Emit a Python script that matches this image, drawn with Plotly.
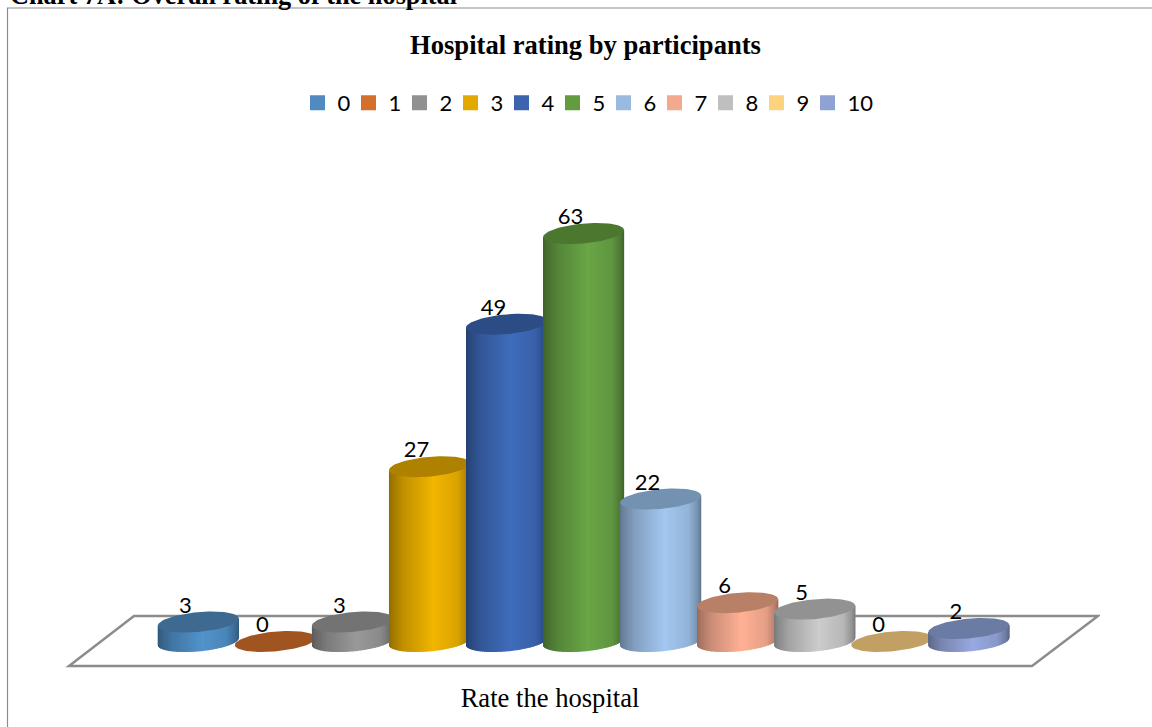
import numpy as np
import plotly.graph_objects as go

# ---- data ----
categories = ["0", "1", "2", "3", "4", "5", "6", "7", "8", "9", "10"]
values = [3, 0, 3, 27, 49, 63, 22, 6, 5, 0, 2]
legend_colors = ["#4f8bc0", "#d4702b", "#919191", "#e3a900", "#3c64ae", "#629c3e",
                 "#9abbe0", "#f2a98d", "#bfbfbf", "#ffd27f", "#8fa2d4"]
bright_colors = ["#5293cc", "#d9742d", "#999999", "#f2b500", "#3f6cbc", "#69a646",
                 "#a3c7f0", "#ffb195", "#cccccc", "#ffd27f", "#98a9e0"]
top_colors = ["#3e6a92", "#a0541f", "#737373", "#ae8200", "#2c4c85", "#4b772f",
              "#7391b0", "#b98068", "#929292", "#c29f62", "#6a7ba4"]

chart_caption = "Chart 7A: Overall rating of the hospital"
chart_title = "Hospital rating by participants"
axis_title = "Rate the hospital"

# ---- layout scale (pixels) ----
W, H = 1152, 727
PX0, PITCH = 198.3, 77.05      # pixel x of category 0, pixels per category
PY0, PPU = 641.5, 6.476        # pixel y of value 0, pixels per unit
M_T, M_B, M_R = 130, 57, 52
PW = W - M_R
A, B, K = 40.5, 9.9, 3.5       # ellipse half width, half height, skew


def X(px):
    return (px - PX0) / PITCH


def Y(py):
    return (PY0 - py) / PPU


def rgb(hexc, f=1.0):
    c = [int(hexc[i:i + 2], 16) for i in (1, 3, 5)]
    return "rgb(%d,%d,%d)" % tuple(min(255, round(v * f)) for v in c)


def shade(u):
    return np.interp((u + 1) / 2, [0, .04, .18, .55, .85, .96, 1],
                     [.60, .66, .80, 1.0, .90, .72, .60])


fig = go.Figure()

# real data bars (under the cylinder shading)
for i, (c, v) in enumerate(zip(categories, values)):
    fig.add_trace(go.Bar(x=[i], y=[v], width=[0.9 * 2 * A / PITCH], name=c,
                         marker=dict(color=legend_colors[i], line=dict(width=0)),
                         showlegend=False, hovertemplate=c + ": %{y}<extra></extra>"))

# legend entries
for i, c in enumerate(categories):
    fig.add_trace(go.Scatter(x=[None], y=[None], mode="markers", name=c,
                             marker=dict(symbol="square", size=15, color=legend_colors[i],
                                         line=dict(width=0))))
# blank entry: keeps the legend box wide enough for the last label
fig.add_trace(go.Scatter(x=[None], y=[None], mode="markers", name="\u00a0",
                         marker=dict(symbol="square", size=15, color="rgba(0,0,0,0)",
                                     line=dict(width=0))))

# cylinders, left to right so later ones cover earlier ones
N = 48
th = np.linspace(np.pi, 0, N + 1)
us = np.cos(th)
tt = np.linspace(0, 2 * np.pi, 91)
for i, v in enumerate(values):
    if v > 0:
        for j in range(N):
            u0, u1 = us[j], us[min(j + 1, N)]
            um = (u0 + u1) / 2
            uo = min(us[j + 1] + 0.03, 1.0)   # small overlap hides seams
            xs = i + np.array([u0, uo, uo, u0, u0]) * A / PITCH
            low = lambda u: (-B * np.sqrt(max(1 - u * u, 0)) + K * u) / PPU
            ys = [v + K * u0 / PPU, v + K * uo / PPU, low(uo), low(u0), v + K * u0 / PPU]
            fig.add_trace(go.Scatter(x=xs, y=ys, mode="lines", fill="toself",
                                     line=dict(width=0), hoverinfo="skip", showlegend=False,
                                     fillcolor=rgb(bright_colors[i], float(shade(um)))))
    ex = i + np.cos(tt) * A / PITCH
    ey = v + (B * np.sin(tt) + K * np.cos(tt)) / PPU
    fig.add_trace(go.Scatter(x=ex, y=ey, mode="lines", fill="toself", line=dict(width=0),
                             fillcolor=top_colors[i], hoverinfo="skip", showlegend=False))

# data labels
fig.add_trace(go.Scatter(
    x=[i - 13 / PITCH for i in range(len(values))],
    y=[v + 15 / PPU for v in values],
    mode="text", text=[str(v) for v in values], textposition="middle center",
    textfont=dict(family="Lato", size=22, color="#000000"),
    hoverinfo="skip", showlegend=False))

floor_pts = [(134, 616), (1098, 616), (1032, 666), (69, 666)]
path = "M" + " L".join(f"{X(a):.4f},{Y(b):.4f}" for a, b in floor_pts) + " Z"
plot_h = H - M_T - M_B


def py_paper(py):
    return (H - M_B - py) / plot_h


fig.update_layout(
    width=W, height=H, autosize=False,
    margin=dict(l=0, r=M_R, t=M_T, b=M_B, pad=0),
    paper_bgcolor="white", plot_bgcolor="white",
    barmode="overlay",
    title=dict(text=f"<b>{chart_title}</b>", x=585.5 / W, xanchor="center",
               y=1 - 45 / H, yanchor="middle",
               font=dict(family="Liberation Serif", size=26.6, color="#000000")),
    xaxis=dict(range=[X(0), X(PW)], showgrid=False, zeroline=False, showline=False,
               showticklabels=False, ticks="", fixedrange=True,
               title=dict(text=axis_title, standoff=18,
                          font=dict(family="Liberation Serif", size=26.6, color="#000000"))),
    yaxis=dict(range=[Y(H - M_B), Y(M_T)], showgrid=False, zeroline=False, showline=False,
               showticklabels=False, ticks="", fixedrange=True),
    legend=dict(orientation="h", x=297.5 / PW, xanchor="left", y=py_paper(103), yanchor="middle",
                entrywidth=6, entrywidthmode="pixels", itemclick=False, itemdoubleclick=False,
                font=dict(family="Lato", size=22, color="#000000"),
                bgcolor="rgba(0,0,0,0)"),
    shapes=[
        dict(type="path", path=path, xref="x", yref="y", layer="below",
             line=dict(color="#8c8c8c", width=2.5)),
        dict(type="rect", xref="paper", yref="paper", x0=7.5 / PW, x1=(W + 10) / PW,
             y0=py_paper(H + 10), y1=py_paper(8), layer="below",
             line=dict(color="#8c8c8c", width=1.2)),
    ],
    annotations=[
        dict(text=f"<b>{chart_caption}</b>", xref="paper", yref="paper", x=8 / PW, xanchor="left",
             y=py_paper(-5), yanchor="middle", showarrow=False,
             font=dict(family="Liberation Serif", size=26.3, color="#000000")),
    ],
    hovermode="closest",
)

fig.write_html("out.html", post_script="document.body.style.margin='0';",
               config={"displayModeBar": False})
